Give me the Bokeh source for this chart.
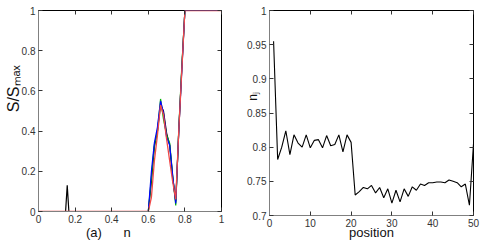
from bokeh.plotting import figure
from bokeh.layouts import row
from bokeh.models import FixedTicker, LinearAxis, Range1d
from bokeh.embed import file_html
from bokeh.resources import INLINE

# ---------------- data: panel (a) ----------------
n_black = [0.0, 0.148, 0.157, 0.166, 0.6, 0.617, 0.633, 0.65, 0.667, 0.683, 0.7, 0.717, 0.733, 0.75, 0.767, 0.783, 0.8, 1.0]
s_black = [0.0, 0.0, 0.13, 0.0, 0.0, 0.15, 0.32, 0.40, 0.53, 0.50, 0.39, 0.33, 0.17, 0.05, 0.41, 0.71, 1.0, 1.0]
n_grid = [0.0, 0.6, 0.617, 0.633, 0.65, 0.667, 0.683, 0.7, 0.717, 0.733, 0.75, 0.767, 0.783, 0.8, 1.0]
s_green = [0.0, 0.0, 0.17, 0.33, 0.40, 0.56, 0.46, 0.38, 0.34, 0.18, 0.03, 0.42, 0.72, 1.0, 1.0]
s_blue = [0.0, 0.0, 0.20, 0.34, 0.42, 0.55, 0.49, 0.37, 0.33, 0.18, 0.04, 0.41, 0.70, 1.0, 1.0]
s_red = [0.0, 0.0, 0.07, 0.25, 0.38, 0.53, 0.48, 0.36, 0.25, 0.15, 0.06, 0.41, 0.70, 1.0, 1.0]
a_xticks = [0, 0.2, 0.4, 0.6, 0.8, 1]
a_xlabels = ["0", "0.2", "0.4", "0.6", "0.8", "1"]
a_yticks = [0, 0.2, 0.4, 0.6, 0.8, 1]
a_ylabels = ["0", "0.2", "0.4", "0.6", "0.8", "1"]

# ---------------- data: panel (b) ----------------
position = list(range(1, 51))
n_j = [0.955, 0.782, 0.800, 0.824, 0.789, 0.818, 0.806, 0.800, 0.818, 0.799,
       0.810, 0.811, 0.799, 0.817, 0.802, 0.804, 0.818, 0.793, 0.818, 0.807,
       0.730, 0.735, 0.741, 0.739, 0.744, 0.733, 0.741, 0.726, 0.739, 0.718,
       0.737, 0.720, 0.739, 0.728, 0.742, 0.737, 0.746, 0.744, 0.748, 0.748,
       0.749, 0.749, 0.748, 0.752, 0.750, 0.748, 0.742, 0.746, 0.715, 0.805]
b_xticks = [0, 10, 20, 30, 40, 50]
b_xlabels = ["0", "10", "20", "30", "40", "50"]
b_yticks = [0.7, 0.75, 0.8, 0.85, 0.9, 0.95, 1.0]
b_ylabels = ["0.7", "0.75", "0.8", "0.85", "0.9", "0.95", "1"]

FONT = "Liberation Sans"
NB = "\u00a0"


def style(p, xt, xl, yt, yl):
    p.outline_line_color = "black"
    p.outline_line_width = 1
    p.xgrid.visible = False
    p.ygrid.visible = False
    bx = p.below[0]
    ly = p.left[0]
    bx.ticker = FixedTicker(ticks=xt)
    ly.ticker = FixedTicker(ticks=yt)
    bx.major_label_overrides = {t: l for t, l in zip(xt, xl)}
    ly.major_label_overrides = {t: l for t, l in zip(yt, yl)}
    for ax in (bx, ly):
        ax.major_tick_in = 4
        ax.major_tick_out = 0
        ax.minor_tick_line_color = None
        ax.axis_line_color = "#808080"
        ax.major_tick_line_color = "#333333"
        ax.major_label_text_font = FONT
        ax.major_label_text_font_size = "10px"
        ax.major_label_text_color = "#333333"
        ax.major_label_standoff = 3
        ax.axis_label_text_font = FONT
        ax.axis_label_text_font_style = "normal"
        ax.axis_label_text_color = "#111111"
    # mirrored ticks on top and right
    for side, ticks in (("above", xt), ("right", yt)):
        ax = LinearAxis(ticker=FixedTicker(ticks=ticks), major_tick_in=4, major_tick_out=0,
                        minor_tick_line_color=None, major_label_text_font_size="1px",
                        major_label_text_color=None, major_label_standoff=0,
                        axis_line_color=None, major_tick_line_color="#333333")
        p.add_layout(ax, side)
    return bx, ly


# ---------------- panel (a) ----------------
pa = figure(frame_width=183, frame_height=201, output_backend="svg", toolbar_location=None,
            x_range=Range1d(0, 1), y_range=Range1d(0, 1),
            min_border_left=38, min_border_right=19, min_border_top=10, min_border_bottom=29)
ax_a, ay_a = style(pa, a_xticks, a_xlabels, a_yticks, a_ylabels)
pa.line(n_black, s_black, line_color="black", line_width=1.2)
pa.line(n_grid, s_green, line_color="#00b400", line_width=1.2)
pa.line(n_grid, s_blue, line_color="#0000ff", line_width=1.2)
pa.line(n_grid, s_red, line_color="#f04848", line_width=1.3)
ay_a.axis_label = NB * 10 + "S/S\u2098\u2090\u2093"
ay_a.axis_label_text_font_size = "16px"
ay_a.axis_label_standoff = -3
ax_a.axis_label = "(a)" + NB * 6 + "n" + NB * 12
ax_a.axis_label_text_font_size = "13px"
ax_a.axis_label_standoff = -1

# ---------------- panel (b) ----------------
pb = figure(frame_width=204, frame_height=205, output_backend="svg", toolbar_location=None,
            x_range=Range1d(0, 50), y_range=Range1d(0.7, 1.0),
            min_border_left=29, min_border_right=11, min_border_top=10, min_border_bottom=25)
ax_b, ay_b = style(pb, b_xticks, b_xlabels, b_yticks, b_ylabels)
pb.line(position, n_j, line_color="black", line_width=1.1)
ay_b.axis_label = NB * 10 + "n\u2c7c"
ay_b.axis_label_text_font_size = "12px"
ay_b.axis_label_standoff = -16
ax_b.axis_label = "position"
ax_b.axis_label_text_font_size = "13px"
ax_b.axis_label_standoff = -5

layout = row(pa, pb, spacing=0)
open("out.html", "w").write(file_html(layout, INLINE))
